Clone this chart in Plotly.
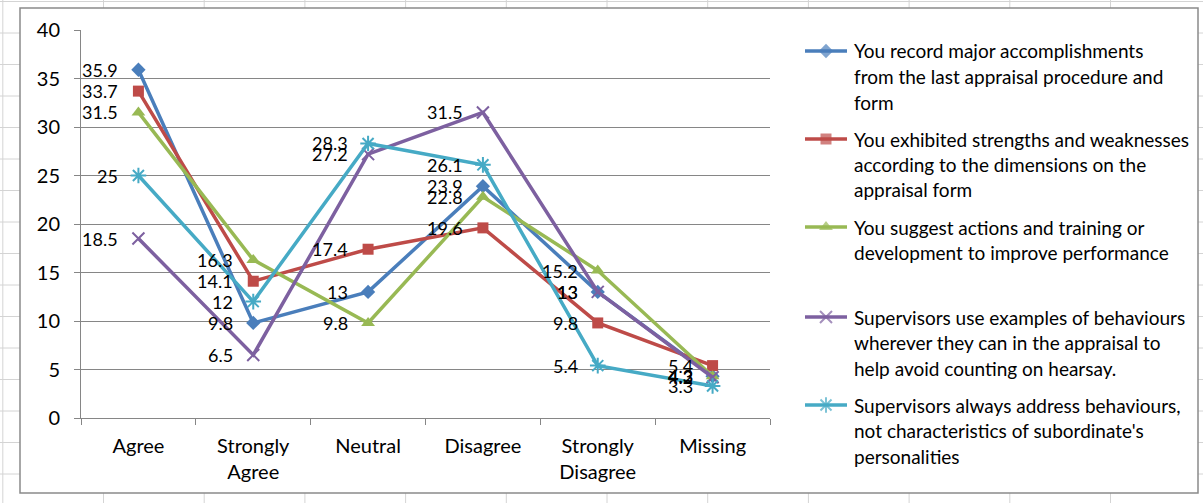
import plotly.graph_objects as go

# ---- data -------------------------------------------------------------
categories = ["Agree", "Strongly<br>Agree", "Neutral", "Disagree", "Strongly<br>Disagree", "Missing"]

series_names = [
    "You record major accomplishments<br>from the last appraisal procedure and<br>form",
    "You exhibited strengths and weaknesses<br>according to the dimensions on the<br>appraisal form",
    "You suggest actions and training or<br>development to improve performance",
    "Supervisors use examples of behaviours<br>wherever they can in the appraisal to<br>help avoid counting on hearsay.",
    "Supervisors always address behaviours,<br>not characteristics of subordinate's<br>personalities",
]

record_accomplishments = [35.9, 9.8, 13, 23.9, 13, 4.3]
strengths_weaknesses = [33.7, 14.1, 17.4, 19.6, 9.8, 5.4]
suggest_actions = [31.5, 16.3, 9.8, 22.8, 15.2, 4.3]
examples_behaviours = [18.5, 6.5, 27.2, 31.5, 13, 4.2]
address_behaviours = [25, 12, 28.3, 26.1, 5.4, 3.3]

series_values = [record_accomplishments, strengths_weaknesses, suggest_actions,
                 examples_behaviours, address_behaviours]

y_ticks = [0, 5, 10, 15, 20, 25, 30, 35, 40]

# ---- styling ----------------------------------------------------------
colors = ["#4A7EBB", "#BE4B48", "#98B954", "#7D60A0", "#46AAC5"]
symbols = ["diamond", "square", "triangle-up", "x-thin-open", "asterisk-open"]
sizes = [11, 11, 12, 12, 13]
FONT = "Lato"
LABEL_FS = 18
TICK_FS = 20
LEGEND_FS = 19

W_FIG, H_FIG = 1203, 503
L, R, T, B = 81, 770, 30, 418          # plot area in pixels


def xp(px):
    return px / W_FIG


def yp(py):
    return 1 - py / H_FIG


fig = go.Figure()

for name, vals, col, sym, sz in zip(series_names, series_values, colors, symbols, sizes):
    open_sym = sym.endswith("open")
    fig.add_trace(go.Scatter(
        x=categories, y=vals, mode="lines+markers", name=name,
        line=dict(color=col, width=3.5),
        marker=dict(symbol=sym, size=sz, color=col,
                    line=dict(color=col, width=2 if open_sym else 0)),
        showlegend=False, cliponaxis=False,
    ))

# data labels, placed to the left of each point
annotations = []
for vals in series_values:
    for cat, v in zip(categories, vals):
        annotations.append(dict(
            x=cat, y=v, xref="x", yref="y", text=f"{v:g}", showarrow=False,
            xanchor="right", yanchor="middle", xshift=-18,
            font=dict(family=FONT, size=LABEL_FS, color="black"),
        ))

# legend drawn on a full-figure pixel subplot
legend_rows = [51, 139, 227, 317, 405]
LINE_GAP = 25.5
for name, col, sym, sz, ly in zip(series_names, colors, symbols, sizes, legend_rows):
    open_sym = sym.endswith("open")
    fig.add_trace(go.Scatter(
        x=[805, 826, 847], y=[ly, ly, ly], mode="lines+markers",
        xaxis="x2", yaxis="y2", showlegend=False, hoverinfo="skip",
        line=dict(color=col, width=3.5),
        marker=dict(symbol=sym, size=[0, sz, 0], color=col,
                    line=dict(color=col, width=2 if open_sym else 0)),
    ))
    for i, line in enumerate(name.split("<br>")):
        annotations.append(dict(
            x=xp(852), y=yp(ly + i * LINE_GAP), xref="paper", yref="paper",
            text=line, showarrow=False, xanchor="left", yanchor="middle",
            font=dict(family=FONT, size=LEGEND_FS, color="black"),
        ))

# spreadsheet cell grid behind the chart, then the chart box
shapes = []
cell_color = "#D4D4D4"
k = 0
while 2.8 + 100.7 * k < W_FIG:
    x = 2.8 + 100.7 * k
    shapes.append(dict(type="line", xref="paper", yref="paper", layer="below",
                       x0=xp(x), x1=xp(x), y0=0, y1=1,
                       line=dict(color=cell_color, width=1)))
    k += 1
k = 0
while 1.5 + 31.5 * k < H_FIG:
    y = 1.5 + 31.5 * k
    shapes.append(dict(type="line", xref="paper", yref="paper", layer="below",
                       x0=0, x1=1, y0=yp(y), y1=yp(y),
                       line=dict(color=cell_color, width=1)))
    k += 1
shapes.append(dict(type="rect", xref="paper", yref="paper", layer="below",
                   x0=xp(20), x1=xp(1198), y0=yp(493), y1=yp(8),
                   fillcolor="white", line=dict(color="#8A8A8A", width=1.5)))

fig.update_layout(
    width=W_FIG, height=H_FIG,
    margin=dict(l=0, r=0, t=0, b=0, pad=0, autoexpand=False),
    paper_bgcolor="white", plot_bgcolor="rgba(0,0,0,0)",
    font=dict(family=FONT, size=TICK_FS, color="black"),
    showlegend=False,
    xaxis=dict(
        domain=[xp(L), xp(R)], automargin=False,
        type="category", range=[-0.5, 5.5], tickson="boundaries",
        ticks="outside", ticklen=6, tickcolor="#868686", tickwidth=1,
        showline=True, linecolor="#868686", linewidth=1,
        showgrid=False, zeroline=False, ticklabelstandoff=10,
        tickfont=dict(family=FONT, size=TICK_FS, color="black"),
    ),
    yaxis=dict(
        domain=[yp(B), yp(T)], automargin=False,
        range=[0, 40], tickvals=y_ticks, ticks="outside", ticklen=6,
        tickcolor="#868686", tickwidth=1,
        showline=True, linecolor="#868686", linewidth=1,
        showgrid=True, gridcolor="#868686", gridwidth=1, zeroline=False,
        ticklabelstandoff=10,
        tickfont=dict(family=FONT, size=TICK_FS, color="black"),
    ),
    xaxis2=dict(domain=[0, 1], range=[0, W_FIG], visible=False,
                fixedrange=True, anchor="y2", automargin=False),
    yaxis2=dict(domain=[0, 1], range=[H_FIG, 0], visible=False,
                fixedrange=True, anchor="x2", automargin=False),
    annotations=annotations,
    shapes=shapes,
)

fig.write_html("out.html")
